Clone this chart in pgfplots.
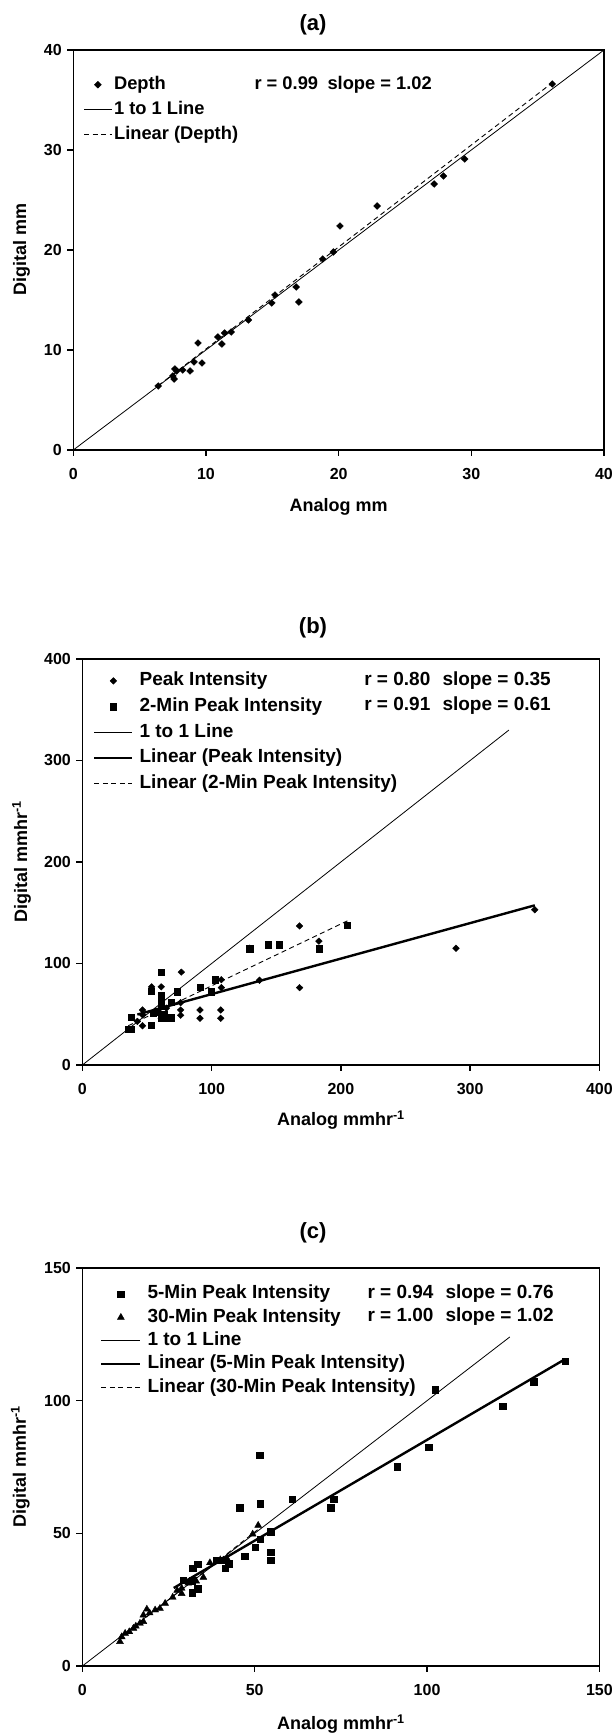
\documentclass[border=0pt]{standalone}
\usepackage{fontspec}
\setmainfont{Liberation Sans}
\usepackage{pgfplots}
\pgfplotsset{compat=1.18}

\pgfplotsset{
  panel/.style={
    scale only axis,
    axis line style={line width=1.6pt},
    tick pos=left, tick align=outside,
    major tick length=6pt,
    tick style={black, line width=1.4pt},
    /pgf/number format/assume math mode=true,
    tick label style={font=\fontsize{16}{19}\selectfont\bfseries},
    xticklabel style={yshift=-9pt},
    yticklabel style={xshift=-2pt},
    label style={font=\fontsize{18}{21}\selectfont\bfseries},
    legend cell align=left,
    legend style={draw=none, fill=none, inner sep=0pt, anchor=north west,
      font=\fontsize{19}{22}\selectfont\bfseries,
      nodes={inner sep=0pt, text height=13.5pt, text depth=4pt}},
  },
  pts/.style={only marks, black, mark options={solid}},
  dia/.style={pts, mark=diamond*, mark options={solid, xscale=1.35}},
  oneline/.style={black, line width=0.8pt, no marks},
  fitthick/.style={black, line width=2.4pt, no marks},
  fitdash/.style={black, line width=0.9pt, dash pattern=on 5pt off 3.5pt, no marks},
}
\newcommand\legfont{\fontsize{19}{22}\selectfont\bfseries}

\begin{document}
\begin{tikzpicture}
\useasboundingbox (0pt,0pt) rectangle (615pt,1733pt);

% ---------------- (a) depth
\node[font=\fontsize{22}{26}\selectfont\bfseries] at (313pt,1708pt) {(a)};
\begin{axis}[panel,
  at={(73.3pt,1283pt)}, anchor=south west,
  width=530.7pt, height=400pt,
  xmin=0, xmax=40, ymin=0, ymax=40,
  xtick={0,10,20,30,40}, ytick={0,10,20,30,40},
  xlabel={Analog mm}, ylabel={Digital mm},
  xlabel style={at={(axis description cs:0.5,-0.142)}, anchor=center},
  ylabel style={at={(axis description cs:-0.0974,0.5)}, anchor=center},
  legend style={at={(axis description cs:0.0192,0.9355)}, column sep=2pt,
    row sep=7.5pt, font=\fontsize{18.3}{21}\selectfont\bfseries},
  legend image code/.code={\draw[mark repeat=2,mark phase=2,#1]
    plot coordinates {(0pt,0pt) (13.75pt,0pt) (27.5pt,0pt)};},
]
\addplot[dia, mark size=3.4pt] coordinates {
  (36.1,36.6) (29.5,29.1) (27.9,27.4) (27.2,26.6) (22.9,24.4) (20.1,22.4)
  (19.6,19.8) (18.8,19.1) (16.8,16.3) (15.2,15.5) (14.96,14.7) (17.0,14.8)
  (13.2,13.0) (11.9,11.8) (11.4,11.7) (10.9,11.3) (11.2,10.6) (9.4,10.7)
  (9.1,8.8) (9.7,8.7) (8.8,7.9) (8.25,8.0) (7.66,8.1) (7.8,7.9)
  (7.6,7.1) (7.5,7.4) (6.4,6.4)
};
\addlegendentry{Depth}
\addplot[oneline] coordinates {(0,0) (40,40)};
\addlegendentry{1 to 1 Line}
\addplot[fitdash] coordinates {(6.4,6.43) (36.1,36.72)};
\addlegendentry{Linear (Depth)}
\end{axis}
\node[anchor=base west, font=\fontsize{18.3}{21}\selectfont\bfseries] at (251pt,1643.7pt) {r = 0.99};
\node[anchor=base west, font=\fontsize{18.3}{21}\selectfont\bfseries] at (324pt,1643.7pt) {slope = 1.02};

% ---------------- (b) peak intensity
\node[font=\fontsize{22}{26}\selectfont\bfseries] at (313pt,1105pt) {(b)};
\begin{axis}[panel,
  at={(82.4pt,668pt)}, anchor=south west,
  width=517pt, height=406pt,
  xmin=0, xmax=400, ymin=0, ymax=400,
  xtick={0,100,200,300,400}, ytick={0,100,200,300,400},
  xlabel={Analog mmhr\textsuperscript{-1}}, ylabel={Digital mmhr\textsuperscript{-1}},
  xlabel style={at={(axis description cs:0.5,-0.135)}, anchor=center},
  ylabel style={at={(axis description cs:-0.1176,0.5)}, anchor=center},
  legend style={at={(axis description cs:0.0205,0.968)}, column sep=6pt,
    row sep=8.2pt},
  legend image code/.code={\draw[mark repeat=2,mark phase=2,#1]
    plot coordinates {(0pt,0pt) (19pt,0pt) (38pt,0pt)};},
]
\addplot[dia, mark size=3.3pt] coordinates {
  (350,153) (168,137) (183,122) (129.5,115) (289,115) (76.5,91.5)
  (107.5,84) (137,83.5) (168,76.2) (107.5,76.2) (53.5,77) (61,77)
  (76,61.5) (76,54.2) (76,49) (91,54.2) (91,46) (107,54.2) (107,46)
  (46.5,54.2) (46.5,49.5) (46.5,38.7) (42.5,43) (61,46) (61,50)
  (65,56) (58,52)
};
\addlegendentry{Peak Intensity}
\addplot[pts, mark=square*, mark size=3.1pt] coordinates {
  (205,137.6) (183,114.6) (144,118.6) (152,118.6) (129.5,114.6) (61,91.7)
  (103,84) (91,76.5) (99.5,72.2) (73.5,72.2) (53.5,72.5) (61,69) (61,64)
  (68.5,61.7) (61,58) (58,52.5) (38,47) (35.5,35.2) (38,35.2) (53.5,39)
  (61,46.5) (65,46.5) (68.5,46.5) (63,50) (55,51)
};
\addlegendentry{2-Min Peak Intensity}
\addplot[oneline] coordinates {(0,0) (330,330)};
\addlegendentry{1 to 1 Line}
\addplot[fitthick] coordinates {(42.5,49.7) (350,157.3)};
\addlegendentry{Linear (Peak Intensity)}
\addplot[fitdash] coordinates {(35.5,38.7) (205,142)};
\addlegendentry{Linear (2-Min Peak Intensity)}
\end{axis}
\node[anchor=base west, font=\legfont] at (360.8pt,1047.5pt) {r = 0.80};
\node[anchor=base west, font=\legfont] at (439pt,1047.5pt) {slope = 0.35};
\node[anchor=base west, font=\legfont] at (360.8pt,1022pt) {r = 0.91};
\node[anchor=base west, font=\legfont] at (439pt,1022pt) {slope = 0.61};

% ---------------- (c) 5-min and 30-min
\node[font=\fontsize{22}{26}\selectfont\bfseries] at (313pt,500.5pt) {(c)};
\begin{axis}[panel,
  at={(82.4pt,67pt)}, anchor=south west,
  width=517pt, height=398pt,
  xmin=0, xmax=150, ymin=0, ymax=150,
  xtick={0,50,100,150}, ytick={0,50,100,150},
  xlabel={Analog mmhr\textsuperscript{-1}}, ylabel={Digital mmhr\textsuperscript{-1}},
  xlabel style={at={(axis description cs:0.5,-0.146)}, anchor=center},
  ylabel style={at={(axis description cs:-0.12,0.5)}, anchor=center},
  legend style={at={(axis description cs:0.034,0.957)}, column sep=6pt,
    row sep=5.8pt},
  legend image code/.code={\draw[mark repeat=2,mark phase=2,#1]
    plot coordinates {(0pt,0pt) (19.5pt,0pt) (39pt,0pt)};},
]
\addplot[pts, mark=square*, mark size=3.2pt] coordinates {
  (140,114.9) (130.9,107.1) (102.4,104.2) (121.9,97.9) (100.5,82.5)
  (91.4,75.1) (51.4,79.5) (60.9,62.8) (72.9,62.8) (45.6,59.7) (51.6,61.1)
  (72,59.6) (54.6,50.6) (51.6,47.7) (50.1,44.7) (47.1,41.4) (54.6,43)
  (54.6,39.8) (39,39.9) (40.5,39.9) (41.5,36.9) (42.5,38.6) (33.5,38.3)
  (32,36.9) (31.9,32.2) (29.3,32.3) (33.5,29.2) (31.8,27.6)
};
\addlegendentry{5-Min Peak Intensity}
\addplot[pts, mark=triangle*, mark size=4pt] coordinates {
  (51,53) (49.4,49.7) (41.9,40.6) (37,38.9) (35.1,33.4) (30.7,31.2)
  (28.8,29.3) (28.8,27.3) (26.2,25.9) (24,23.6) (22.5,21.7) (21.1,21.1)
  (18.7,21.4) (17.7,19.2) (17.7,16.7) (16.7,16.1) (14.8,14.2) (13.6,12.9)
  (12.4,12.3) (11.4,11) (10.9,9.2) (15.5,15) (19.5,20) (27.5,28.5)
  (40,40) (33,32)
};
\addlegendentry{30-Min Peak Intensity}
\addplot[oneline] coordinates {(0,0) (124,124)};
\addlegendentry{1 to 1 Line}
\addplot[fitthick] coordinates {(26.5,29.4) (140,115.6)};
\addlegendentry{Linear (5-Min Peak Intensity)}
\addplot[fitdash] coordinates {(10.9,10.6) (51,51.5)};
\addlegendentry{Linear (30-Min Peak Intensity)}
\end{axis}
\node[anchor=base west, font=\legfont] at (364pt,434.5pt) {r = 0.94};
\node[anchor=base west, font=\legfont] at (442pt,434.5pt) {slope = 0.76};
\node[anchor=base west, font=\legfont] at (364pt,411.5pt) {r = 1.00};
\node[anchor=base west, font=\legfont] at (442pt,411.5pt) {slope = 1.02};
\end{tikzpicture}
\end{document}
